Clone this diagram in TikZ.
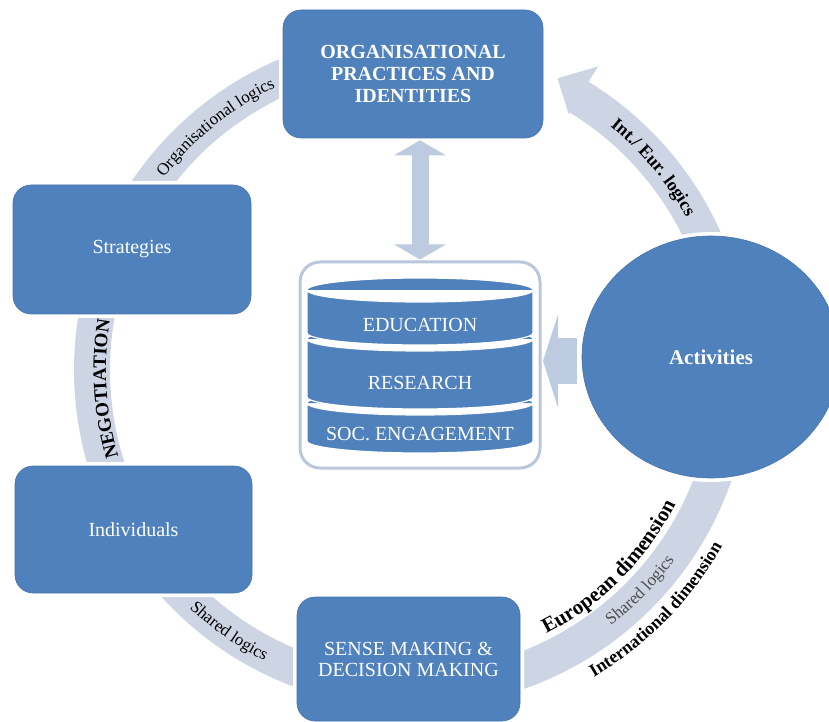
\documentclass[tikz,border=0pt]{standalone}
\usepackage{fontspec}
\setmainfont{Liberation Serif}
\usetikzlibrary{shapes.geometric,decorations.text,arrows.meta,calc}
\definecolor{boxblue}{HTML}{4F81BD}
\definecolor{boxedge}{HTML}{4775AC}
\definecolor{bandgrey}{HTML}{CDD4E4}
\definecolor{linkblue}{HTML}{BDCBE1}
\definecolor{rimgrey}{HTML}{BAC6DC}
\definecolor{softtext}{HTML}{4D4D4D}

\begin{document}
\begin{tikzpicture}[x=1pt, y=1pt,
  box/.style={rectangle, rounded corners=18pt, fill=boxblue, draw=boxedge, line width=.6pt,
    preaction={draw=white, line width=8pt}, text=white, align=center,
    font=\fontsize{20}{22}\selectfont},
  band/.style={draw=bandgrey, line width=36pt},
  layer/.style={fill=boxblue, draw=white, line width=1.2pt},
  layertext/.style={text=white, font=\fontsize{20}{20}\selectfont},
  link/.style={draw=linkblue}]

\useasboundingbox (0,0) rectangle (829,721);
\coordinate (hub) at (412,351);

\draw[band] ($(hub)+(150:320)$) arc[start angle=150, end angle=112, radius=320];
\draw[band] ($(hub)+(165:320)$) arc[start angle=165, end angle=200, radius=320];
\draw[band] ($(hub)+(215:320)$) arc[start angle=215, end angle=255, radius=320];
\draw[band] ($(hub)+(285:320)$) arc[start angle=285, end angle=345, radius=320];
\fill[bandgrey] ($(hub)+(20:338)$) arc[start angle=20, end angle=58.5, radius=338]
  -- ($(hub)+(58.5:356)$) -- ($(hub)+(63.5:326)$) -- ($(hub)+(58.5:300)$)
  -- ($(hub)+(58.5:302)$) arc[start angle=58.5, end angle=20, radius=302] -- cycle;

\node[box, minimum width=260pt, minimum height=128pt, font=\bfseries\fontsize{20}{22}\selectfont] (org) at (413,647) {ORGANISATIONAL\\PRACTICES AND\\IDENTITIES};
\node[box, minimum width=238pt, minimum height=129pt] (strat) at (132,471.5) {Strategies};
\node[box, minimum width=237pt, minimum height=127pt] (indiv) at (133.5,191.5) {Individuals};
\node[box, minimum width=223pt, minimum height=124pt, font=\fontsize{20}{21}\selectfont] (sense) at (408.5,62) {SENSE MAKING \&\\DECISION MAKING};
\node[box, ellipse, minimum width=258pt, minimum height=242pt, font=\bfseries\fontsize{21}{21}\selectfont] (act) at (711,364) {Activities};

\node[draw=rimgrey, line width=3pt, rounded corners=20pt, minimum width=240pt, minimum height=206pt] (core) at (420,356) {};
\foreach \lid/\base in {318/280, 382/324, 431/388}
  \draw[layer] (307,\base) -- (307,\lid) arc[start angle=180, end angle=0, x radius=113, y radius=12]
    -- (533,\base) arc[start angle=0, end angle=-180, x radius=113, y radius=12] -- cycle
    (307,\lid) arc[start angle=180, end angle=360, x radius=113, y radius=12];
\node[layertext] (edu) at (420,396) {EDUCATION};
\node[layertext] (res) at (420,338) {RESEARCH};
\node[layertext] (soc) at (420,287) {SOC. ENGAGEMENT};

\draw[link, line width=17pt, {Triangle[width=51pt,length=15pt]}-{Triangle[width=51pt,length=15pt]}, shorten <=2pt, shorten >=1pt] (core.north |- org.south) -- (core.north);
\draw[link, line width=45pt, -{Triangle[width=93pt,length=15pt]}, shorten <=5pt, shorten >=1.5pt] ([yshift=4pt]act.west |- core.east) -- ([yshift=4pt]core.east);

\path[decorate, decoration={text along path, text align=center, text={|\fontsize{17}{17}\selectfont|Organisational logics}}] ($(hub)+(150:314)$) arc[start angle=150, end angle=108, radius=314];
\path[decorate, decoration={text along path, text align=center, text={|\bfseries\fontsize{18}{18}\selectfont|Int./ Eur. logics}}] ($(hub)+(58:314)$) arc[start angle=58, end angle=22, radius=314];
\path[decorate, decoration={text along path, text align=center, text={|\bfseries\fontsize{19}{19}\selectfont|NEGOTIATION}}] ($(hub)+(203.5:306)$) arc[start angle=203.5, end angle=163.5, radius=306];
\path[decorate, decoration={text along path, text align=center, text={|\fontsize{17}{17}\selectfont|Shared logics}}] ($(hub)+(215:326)$) arc[start angle=215, end angle=255, radius=326];
\path[decorate, decoration={text along path, text align=center, text color=softtext, text={|\fontsize{17}{17}\selectfont|Shared logics}}] ($(hub)+(296:324)$) arc[start angle=296, end angle=336, radius=324];
\path[decorate, decoration={text along path, text align=center, text={|\bfseries\fontsize{21}{21}\selectfont|European dimension}}] ($(hub)+(290:296)$) arc[start angle=290, end angle=340, radius=296];
\path[decorate, decoration={text along path, text align=center, text={|\bfseries\fontsize{18}{18}\selectfont|International dimension}}] ($(hub)+(290:357)$) arc[start angle=290, end angle=341, radius=357];
\end{tikzpicture}
\end{document}
